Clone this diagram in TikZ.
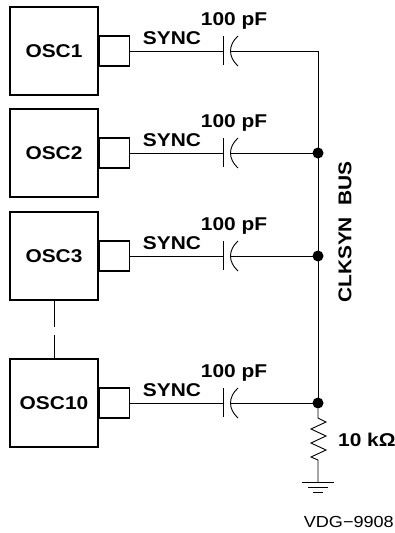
\documentclass[tikz,border=0pt]{standalone}
\usepackage{fontspec}
\setmainfont{Liberation Sans}[FakeStretch=1.13]
\usetikzlibrary{positioning}

\begin{document}
\begin{tikzpicture}[x=1pt, y=-1pt,
  osc/.style={draw, line width=1.6pt, minimum width=88pt, minimum height=88pt,
    inner sep=0pt, font=\fontsize{18.5}{20}\selectfont\bfseries},
  synctab/.style={draw, line width=1.4pt, minimum width=30pt,
    minimum height=30pt, inner sep=0pt, anchor=west},
  wire/.style={line width=0.9pt},
  lbl/.style={font=\fontsize{18.5}{20}\selectfont\bfseries, inner sep=0pt},
  junction/.style={circle, fill, inner sep=0pt, minimum size=11pt},
]
\useasboundingbox (0,0) rectangle (395,533);

% Oscillators, sync outputs and coupling capacitors
\foreach \n/\y in {1/51, 2/153, 3/256, 10/403} {
  \node[osc] (osc\n) at (54,\y) {OSC\n};
  \node[synctab] (sync\n) at (osc\n.east) {};
  \coordinate (cap\n) at (223,\y);
  \coordinate (bus\n) at (318,\y);
  \draw[wire] (sync\n.east) -- (cap\n);
  \draw[wire] ([yshift=15pt]cap\n) -- ([yshift=-14pt]cap\n);
  \draw[wire] ([xshift=15pt,yshift=15pt]cap\n) .. controls ([xshift=5pt,yshift=6pt]cap\n)
    and ([xshift=5pt,yshift=-6pt]cap\n) .. ([xshift=15pt,yshift=-15pt]cap\n);
  \draw[wire] ([xshift=8pt]cap\n) -- (bus\n);
  \node[lbl, anchor=base] (syncl\n) at (172,{\y-7}) {SYNC};
  \node[lbl, anchor=base] (capl\n) at (234,{\y-26}) {100 pF};
}

% OSC4 ... OSC9 left out
\draw[wire, dash pattern=on 26pt off 8pt] (osc3.south) -- (osc10.north);

% CLKSYN bus
\draw[wire] (bus1) -- (bus10);
\node[junction] (j2) at (bus2) {};
\node[junction] (j3) at (bus3) {};
\node[junction] (j10) at (bus10) {};
\node[lbl, rotate=90] (clksyn) at (345,232) {CLKSYN\ \ BUS};

% Pull-down resistor and ground
\coordinate (rtop) at (318,418);
\coordinate (gnd) at (318,482);
\draw[wire] (j10) -- (rtop) -- ++(8,4) -- ++(-15,7) -- ++(15,7) -- ++(-15,7)
  -- ++(15,7) -- ++(-15,7) -- ++(7,3) -- (gnd);
\draw[wire] ([xshift=-16pt]gnd) -- ([xshift=16pt]gnd);
\draw[wire] ([xshift=-10pt,yshift=-5pt]gnd) -- ([xshift=10pt,yshift=-5pt]gnd);
\draw[wire] ([xshift=-5pt,yshift=-10pt]gnd) -- ([xshift=5pt,yshift=-10pt]gnd);
\node[lbl, anchor=base west] (rval) at (338,446) {10 kΩ};

\node[font=\fontsize{16}{18}\selectfont, inner sep=0pt, anchor=base east] (fig)
  at (394,527) {VDG−9908};
\end{tikzpicture}
\end{document}
